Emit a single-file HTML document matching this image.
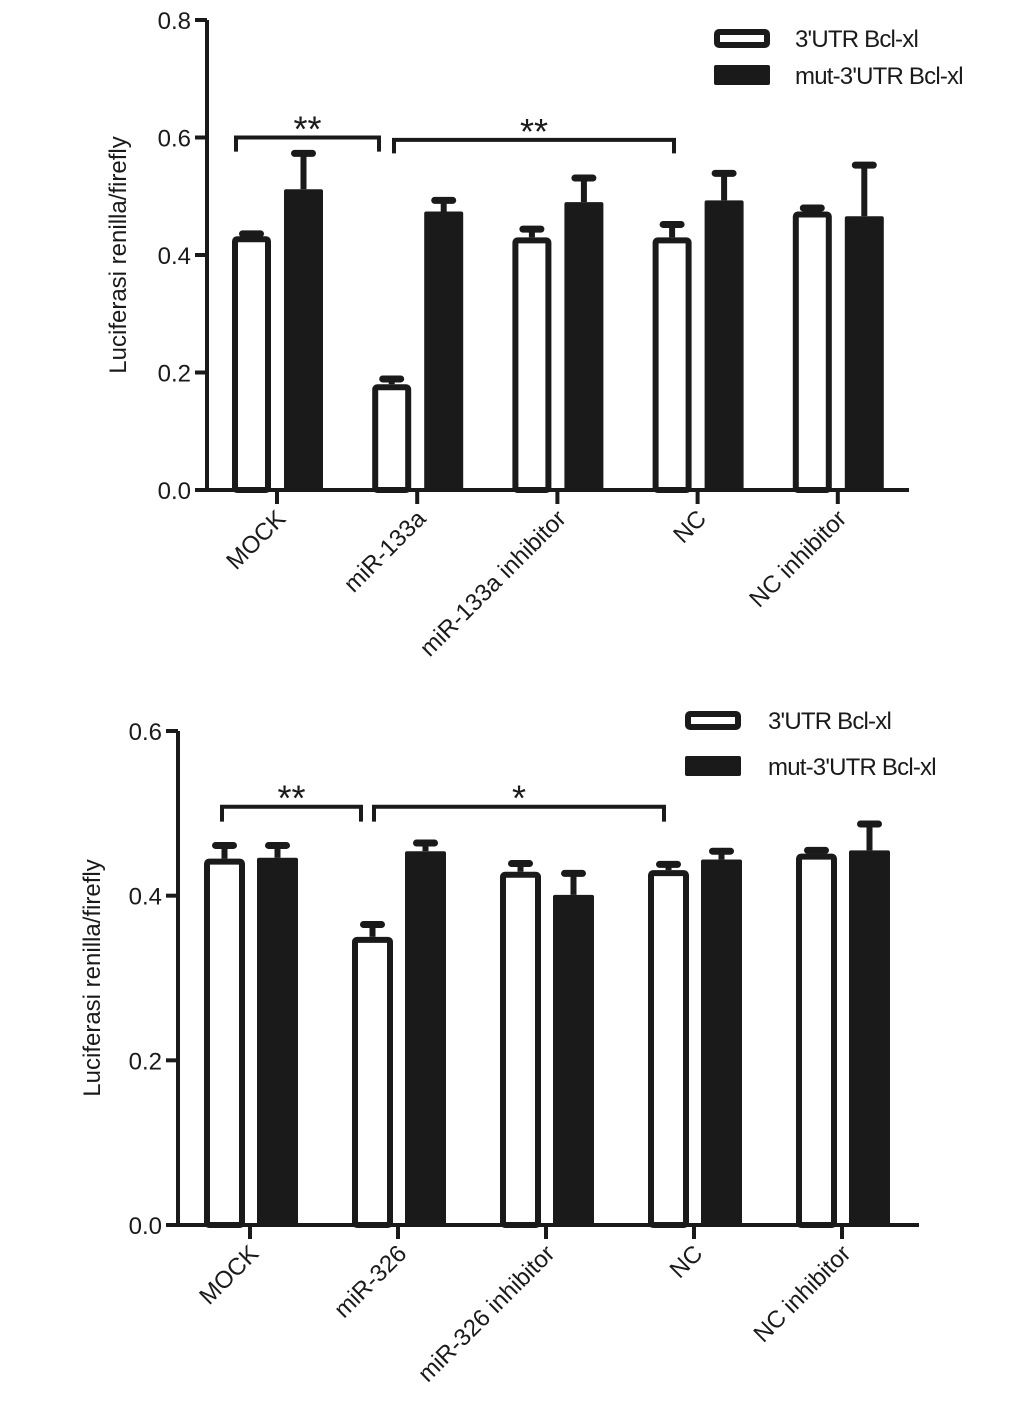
<!DOCTYPE html>
<html><head><meta charset="utf-8"><style>
html,body{margin:0;padding:0;background:#fff;}
svg{display:block;font-family:"Liberation Sans",Arial,sans-serif;}
</style></head><body>
<svg id="fig" width="1033" height="1412" viewBox="0 0 1033 1412"></svg>
<script>
const categoriesA = ["MOCK","miR-133a","miR-133a inhibitor","NC","NC inhibitor"];
const whiteA = [0.432,0.180,0.430,0.430,0.474];
const whiteErrA = [0.004,0.009,0.014,0.022,0.006];
const blackA = [0.512,0.474,0.490,0.493,0.466];
const blackErrA = [0.061,0.019,0.041,0.046,0.087];
const ticksA = [0,0.2,0.4,0.6,0.8];
const tickLabelsA = ["0.0","0.2","0.4","0.6","0.8"];

const categoriesB = ["MOCK","miR-326","miR-326 inhibitor","NC","NC inhibitor"];
const whiteB = [0.445,0.350,0.429,0.431,0.451];
const whiteErrB = [0.016,0.015,0.010,0.007,0.004];
const blackB = [0.446,0.454,0.401,0.444,0.455];
const blackErrB = [0.015,0.010,0.026,0.010,0.032];
const ticksB = [0,0.2,0.4,0.6];
const tickLabelsB = ["0.0","0.2","0.4","0.6"];

const NS="http://www.w3.org/2000/svg";
const svg=document.getElementById('fig');
function mk(tag,attrs,parent){const e=document.createElementNS(NS,tag);for(const k in attrs)e.setAttribute(k,attrs[k]);(parent||svg).appendChild(e);return e;}

function drawChart(cfg){
  const g=mk('g',{});
  
  
  const y=v=>cfg.y0-(v/cfg.ymax)*(cfg.y0-cfg.yTop);
  const x=i=>cfg.x0+cfg.step*i;
  cfg.cats.forEach((c,i)=>{
    const cx=x(i);
    const wl=cfg.wOff+cx, bw=cfg.bw;
    const wt=y(cfg.white[i]+cfg.whiteErr[i]);
    const el1=mk('line',{x1:wl+bw/2,y1:y(cfg.white[i]),x2:wl+bw/2,y2:wt,stroke:'#1a1a1a','stroke-width':6},g);
    
    
    const cap1=mk('line',{x1:wl+bw/2-9,y1:wt,x2:wl+bw/2+9,y2:wt,stroke:'#1a1a1a','stroke-width':7,'stroke-linecap':'round'},g);
    
    
    const r1=mk('rect',{x:wl+3,y:y(cfg.white[i])+3,width:bw-6,height:cfg.y0-y(cfg.white[i])-3,fill:'#fff',stroke:'#1a1a1a','stroke-width':6,rx:2},g);
    
    
    const bl=cfg.bOff+cx;
    const bt=y(cfg.black[i]+cfg.blackErr[i]);
    const el2=mk('line',{x1:bl+bw/2,y1:y(cfg.black[i]),x2:bl+bw/2,y2:bt,stroke:'#1a1a1a','stroke-width':6},g);
    
    
    const cap2=mk('line',{x1:bl+bw/2-9,y1:bt,x2:bl+bw/2+9,y2:bt,stroke:'#1a1a1a','stroke-width':7,'stroke-linecap':'round'},g);
    
    
    const r2=mk('rect',{x:bl,y:y(cfg.black[i]),width:bw,height:cfg.y0-y(cfg.black[i]),fill:'#1a1a1a',rx:2},g);
    
    
    const xt=mk('line',{x1:cx,y1:cfg.y0,x2:cx,y2:cfg.y0+14,stroke:'#1a1a1a','stroke-width':4},g);
    
    
    const t=mk('text',{x:0,y:0,'font-size':24,'text-anchor':'end',fill:'#1a1a1a',transform:`translate(${cx+10},${cfg.y0+30}) rotate(-45)`},g);
    t.textContent=c;
    
    
  });
  const ya=mk('line',{x1:cfg.ax,y1:cfg.yTop,x2:cfg.ax,y2:cfg.y0+2,stroke:'#1a1a1a','stroke-width':4},g);
  
  
  const xa=mk('line',{x1:cfg.ax-2,y1:cfg.y0,x2:cfg.axEnd,y2:cfg.y0,stroke:'#1a1a1a','stroke-width':4},g);
  
  
  cfg.ticks.forEach((v,i)=>{
    const tl=mk('line',{x1:cfg.ax-12,y1:y(v),x2:cfg.ax,y2:y(v),stroke:'#1a1a1a','stroke-width':4},g);
    
    
    const tt=mk('text',{x:cfg.ax-16,y:y(v)+9,'font-size':24,'text-anchor':'end',fill:'#1a1a1a'},g);
    tt.textContent=cfg.tickLabels[i];
    
    
  });
  const yt=mk('text',{x:0,y:0,'font-size':24,'text-anchor':'middle',fill:'#1a1a1a',transform:`translate(${cfg.titleX},${(cfg.y0+cfg.yTop)/2}) rotate(-90)`},g);
  yt.textContent='Luciferasi renilla/firefly';
  
  
  cfg.brackets.forEach(b=>{
    const by=y(b.v), ly=y(b.leg);
    const p=mk('path',{d:`M${b.x1},${ly} L${b.x1},${by} L${b.x2},${by} L${b.x2},${ly}`,fill:'none',stroke:'#1a1a1a','stroke-width':4},g);
    
    
    const s=mk('text',{x:(b.x1+b.x2)/2,y:by+4,'font-size':36,'text-anchor':'middle',fill:'#1a1a1a'},g);
    s.textContent=b.label;
    
    
  });
  const L=cfg.legend;
  const lw=mk('rect',{x:L.x+3,y:L.y1-6,width:50,height:13,fill:'#fff',stroke:'#1a1a1a','stroke-width':6,rx:2},g);
  
  
  const lt1=mk('text',{x:L.tx,y:L.y1+9,'font-size':24,fill:'#1a1a1a','letter-spacing':'-0.8'},g);
  lt1.textContent="3'UTR Bcl-xl";
  
  
  const lb=mk('rect',{x:L.x,y:L.y2-10,width:56,height:20,fill:'#1a1a1a',rx:2},g);
  
  
  const lt2=mk('text',{x:L.tx,y:L.y2+9,'font-size':24,fill:'#1a1a1a','letter-spacing':'-0.8'},g);
  lt2.textContent="mut-3'UTR Bcl-xl";
  
  
}

drawChart({name:'chart-mir133a',cats:categoriesA,white:whiteA,whiteErr:whiteErrA,black:blackA,blackErr:blackErrA,
  ticks:ticksA,tickLabels:tickLabelsA,ymax:0.8,y0:490,yTop:20,ax:207,axEnd:909,x0:277,step:140.2,bw:39,wOff:-45,bOff:7,titleX:126,
  brackets:[{x1:236,x2:379,v:0.6,leg:0.576,label:'**'},{x1:394,x2:674,v:0.596,leg:0.573,label:'**'}],
  legend:{x:714,tx:795,y1:38,y2:75}});
drawChart({name:'chart-mir326',cats:categoriesB,white:whiteB,whiteErr:whiteErrB,black:blackB,blackErr:blackErrB,
  ticks:ticksB,tickLabels:tickLabelsB,ymax:0.6,y0:1225,yTop:731,ax:178,axEnd:919,x0:250,step:148,bw:41,wOff:-46,bOff:7,titleX:100,
  brackets:[{x1:222,x2:361,v:0.508,leg:0.490,label:'**'},{x1:374,x2:664,v:0.508,leg:0.490,label:'*'}],
  legend:{x:685,tx:768,y1:720,y2:766}});
</script>
</body></html>
